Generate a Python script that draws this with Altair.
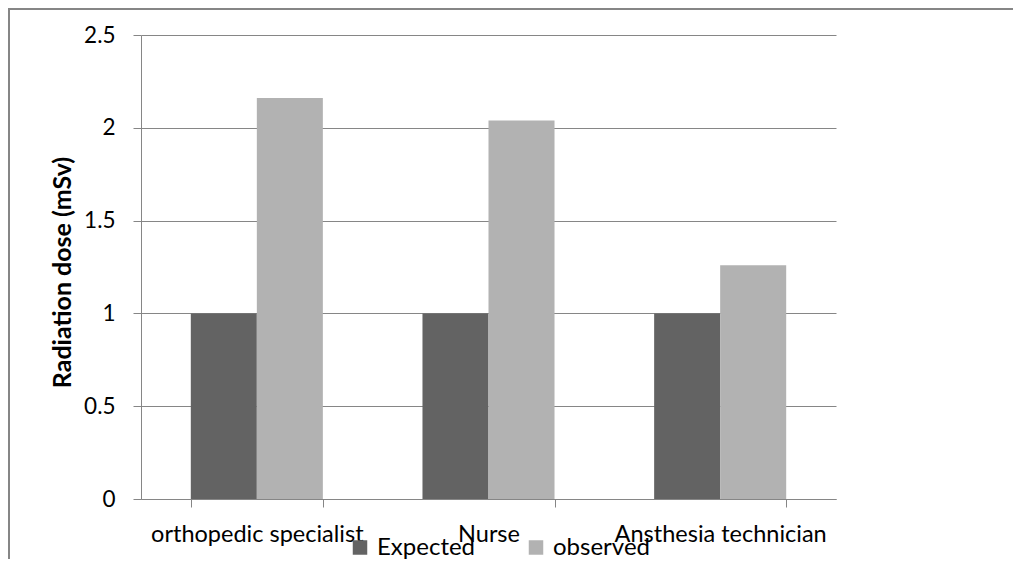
import altair as alt
import pandas as pd

categories = ["orthopedic specialist", "Nurse", "Ansthesia technician"]
series = ["Expected", "observed"]
expected = [1, 1, 1]
observed = [2.16, 2.04, 1.26]
colors = ["#636363", "#b2b2b2"]
y_ticks = [0, 0.5, 1, 1.5, 2, 2.5]

rows = []
for c, e, o in zip(categories, expected, observed):
    rows.append({"category": c, "series": series[0], "value": e})
    rows.append({"category": c, "series": series[1], "value": o})
df = pd.DataFrame(rows)

FONT = "Lato"
GRAY = "#868686"
W, H = 695, 464
PL, PT, PR, PB = 133, 27, 177, 60

bars = alt.Chart(df).mark_bar().encode(
    x=alt.X(
        "category:N",
        sort=categories,
        title=None,
        scale=alt.Scale(paddingInner=0.43, paddingOuter=0.215),
        axis=alt.Axis(
            labelAngle=0,
            labelFontSize=23.5,
            labelColor="black",
            labelPadding=15.5,
            labelLimit=0,
            labelOverlap=False,
            tickSize=8,
            tickBand="extent",
            tickColor=GRAY,
            domainColor=GRAY,
            grid=False,
        ),
    ),
    xOffset=alt.XOffset("series:N", sort=series,
                        scale=alt.Scale(paddingInner=0, paddingOuter=0)),
    y=alt.Y(
        "value:Q",
        scale=alt.Scale(domain=[0, 2.5], nice=False),
        title="Radiation dose (mSv)",
        axis=alt.Axis(
            values=y_ticks,
            labelExpr="format(datum.value, '~g')",
            labelFontSize=22.5,
            labelColor="black",
            labelPadding=18,
            tickSize=8,
            tickColor=GRAY,
            domainColor=GRAY,
            grid=True,
            gridColor=GRAY,
            gridWidth=1,
            titleFontSize=25,
            titleFontWeight="bold",
            titleColor="black",
            titleX=-79,
            titleY=237,
            titleAngle=270,
            titleAlign="center",
            titleBaseline="middle",
        ),
    ),
    color=alt.Color(
        "series:N",
        sort=series,
        scale=alt.Scale(domain=series, range=colors),
        legend=alt.Legend(
            title=None,
            orient="none",
            direction="horizontal",
            legendX=207,
            legendY=500.5,
            symbolType="square",
            symbolSize=210,
            symbolStrokeWidth=0,
            symbolOpacity=1,
            labelFontSize=24,
            labelColor="black",
            labelOffset=5,
            labelLimit=0,
            columnPadding=48,
            padding=0,
        ),
    ),
)

frame = alt.Chart(alt.Data(values=[{}]))
left_line = frame.mark_rule(color=GRAY, strokeWidth=2).encode(
    x=alt.value(-132), y=alt.value(-PT), y2=alt.value(H + PB)
)
top_line = frame.mark_rule(color=GRAY, strokeWidth=2).encode(
    y=alt.value(-PT + 1), x=alt.value(-PL), x2=alt.value(W + PR)
)

chart = alt.layer(bars, left_line, top_line).properties(
    width=W,
    height=H,
    padding={"left": PL, "top": PT, "right": PR, "bottom": PB},
    autosize=alt.AutoSizeParams(type="none"),
).configure(font=FONT).configure_view(stroke=None).configure_axis(
    labelFont=FONT, titleFont=FONT
).configure_legend(labelFont=FONT)

chart.save("out.html", embed_options={"renderer": "svg", "actions": False})
